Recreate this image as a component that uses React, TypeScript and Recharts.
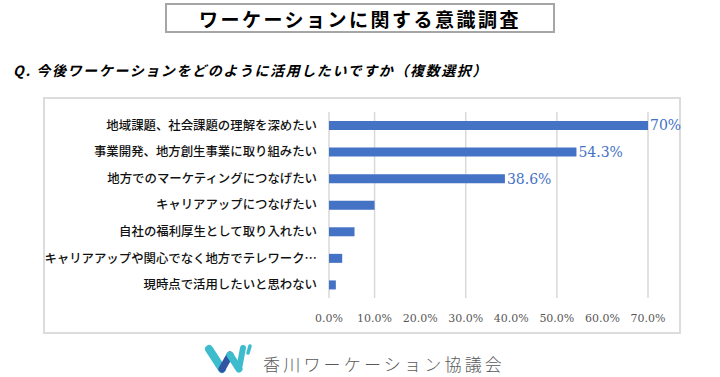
import React from "react";
import {
  BarChart,
  Bar,
  XAxis,
  YAxis,
  CartesianGrid,
  LabelList
} from "recharts";

const categories = [
  "地域課題、社会課題の理解を深めたい",
  "事業開発、地方創生事業に取り組みたい",
  "地方でのマーケティングにつなげたい",
  "キャリアアップにつなげたい",
  "自社の福利厚生として取り入れたい",
  "キャリアアップや関心でなく地方でテレワーク…",
  "現時点で活用したいと思わない"
];
const values = [70, 54.3, 38.6, 10, 5.6, 2.9, 1.5];
const valueLabels = ["70%", "54.3%", "38.6%", "", "", "", ""];
const xTicks = [0, 10, 20, 30, 40, 50, 60, 70];

const data = categories.map((name, i) => ({
  name,
  value: values[i],
  label: valueLabels[i]
}));

const jp = '"Noto Sans CJK JP", "Noto Sans", sans-serif';
const blue = "#4472C4";

function Logo() {
  return (
    <svg width={52} height={32} style={{ position: "absolute", left: 202, top: 343 }}>
      <line x1={7} y1={6} x2={20} y2={26} stroke="#3dbccd" strokeWidth={8} strokeLinecap="round" />
      <line x1={20} y1={26} x2={28} y2={12} stroke="#2f55a4" strokeWidth={7} strokeLinecap="round" />
      <line x1={28} y1={12} x2={37} y2={26} stroke="#3dbccd" strokeWidth={7} strokeLinecap="round" />
      <line x1={37} y1={26} x2={41} y2={5} stroke="#3dbccd" strokeWidth={6} strokeLinecap="round" />
      <line x1={48} y1={3} x2={46} y2={10} stroke="#3dbccd" strokeWidth={3.5} strokeLinecap="round" />
    </svg>
  );
}

export default function App() {
  return (
    <div
      style={{
        position: "absolute",
        left: 0,
        top: 0,
        width: 720,
        height: 377,
        background: "#fff",
        overflow: "hidden",
        fontFamily: jp
      }}
    >
      {/* title box */}
      <div
        style={{
          position: "absolute",
          left: 165,
          top: 3,
          width: 390,
          height: 30,
          boxSizing: "border-box",
          border: "2px solid #a6a6a6",
          display: "flex",
          alignItems: "center",
          justifyContent: "center",
          fontSize: 19,
          fontWeight: 700,
          letterSpacing: 2.5,
          color: "#000"
        }}
      >
        ワーケーションに関する意識調査
      </div>

      <div
        style={{
          position: "absolute",
          left: 13,
          top: 60,
          fontSize: 14,
          fontWeight: 700,
          fontStyle: "italic",
          letterSpacing: 1.6,
          color: "#000",
          whiteSpace: "nowrap"
        }}
      >
        Q. 今後ワーケーションをどのように活用したいですか（複数選択）
      </div>

      {/* chart frame */}
      <div
        style={{
          position: "absolute",
          left: 43,
          top: 97,
          width: 638,
          height: 237,
          boxSizing: "border-box",
          border: "2px solid #dcdcdc"
        }}
      />

      <div style={{ position: "absolute", left: 43, top: 97 }}>
        <BarChart
          width={638}
          height={237}
          layout="vertical"
          data={data}
          margin={{ top: 15, right: 33, left: 0, bottom: 6 }}
        >
          <CartesianGrid horizontal={false} stroke="#d9d9d9" strokeWidth={1.5} />
          <XAxis
            type="number"
            domain={[0, 70]}
            ticks={xTicks}
            tickFormatter={(v) => v.toFixed(1) + "%"}
            axisLine={false}
            tickLine={false}
            height={30}
            tickMargin={10}
            tick={{ fill: "#595959", fontSize: 11, fontFamily: '"DejaVu Serif", serif' }}
          />
          <YAxis
            type="category"
            dataKey="name"
            width={286}
            axisLine={false}
            tickLine={false}
            tickMargin={6}
            interval={0}
            tick={{ fill: "#111", fontSize: 12.4, fontWeight: 500, fontFamily: jp }}
          />
          <Bar dataKey="value" fill={blue} barSize={9} isAnimationActive={false}>
            <LabelList
              dataKey="label"
              position="right"
              offset={2}
              fill={blue}
              fontSize={14}
              fontFamily='"DejaVu Serif", serif'
            />
          </Bar>
        </BarChart>
      </div>

      <Logo />
      <div
        style={{
          position: "absolute",
          left: 263,
          top: 352,
          fontSize: 17,
          fontWeight: 300,
          letterSpacing: 3.2,
          color: "#595959",
          whiteSpace: "nowrap",
          lineHeight: "24px"
        }}
      >
        香川ワーケーション協議会
      </div>
    </div>
  );
}
